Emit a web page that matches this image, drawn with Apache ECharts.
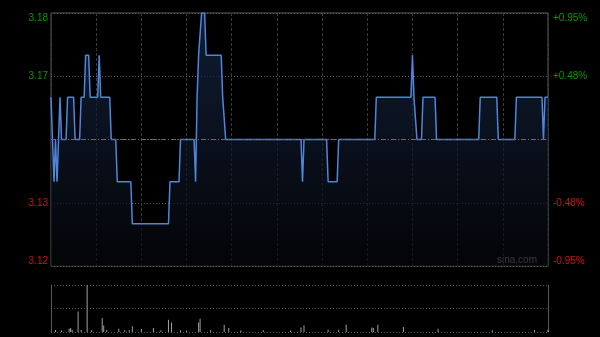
<!DOCTYPE html>
<html>
<head>
<meta charset="utf-8">
<script src="https://cdn.jsdelivr.net/npm/echarts@6/dist/echarts.min.js"></script>
<style>
html,body{margin:0;padding:0;background:#000;}
#chart{width:600px;height:337px;}
</style>
</head>
<body>
<div id="chart"></div>
<script>
// Previous close (reference price for the ± axis)
const prevClose = 3.15;
// Minute index (0 = 9:30, 150 = 12:00/13:00, 330 = 16:00) of each vertex of the price line
const minutes = [0,1,2,3,4,5,6,7,10,11,15,16,19,20,22,23,25,26,31,32,33,39,40,43,44,53,54,78,79,85,86,95,96,97,98,99,100,102,103,113,114,115,116,166,167,168,183,184,190,191,215,216,239,240,241,242,243,246,247,255,256,284,285,296,297,308,309,326,327,328,330];
const prices  = [3.16,3.16,3.14,3.15,3.14,3.14,3.16,3.15,3.15,3.16,3.16,3.15,3.15,3.16,3.16,3.17,3.17,3.16,3.16,3.17,3.16,3.16,3.15,3.15,3.14,3.14,3.13,3.13,3.14,3.14,3.15,3.15,3.14,3.16,3.17,3.17,3.18,3.18,3.17,3.17,3.16,3.16,3.15,3.15,3.14,3.15,3.15,3.14,3.14,3.15,3.15,3.16,3.16,3.17,3.16,3.16,3.15,3.15,3.16,3.16,3.15,3.15,3.16,3.16,3.15,3.15,3.16,3.16,3.15,3.16,3.16];
// Volume bars (relative units)
const volMinutes = [3,7,12,13,14,18,20,24,27,34,35,37,45,49,52,54,60,68,73,78,80,86,90,98,99,106,115,118,126,141,159,166,168,184,191,196,213,214,217,234,257,293,321,330];
const volumes    = [4.2,3.6,7,8.5,4.9,43.5,4.2,100,3.6,29.6,14,4.2,7,3.6,3.6,12,6.3,8.5,3.6,26,20,3.6,3,20,28,3.6,15.5,8.5,3,3.6,3,9.7,14,4.9,4.9,15.5,9.7,8.5,15.5,10.6,7,3.6,4.2,5.5];
// Axis range in cents from previous close
const halfRangeCents = 3;

const GREEN = '#0c960c', RED = '#d21414';
const FONT = 'Liberation Sans, Arial, sans-serif';

const lineData = minutes.map((m, i) => [m, Math.round((prices[i] - prevClose) * 100)]);
const volData = volMinutes.map((m, i) => [m, volumes[i]]);

const chart = echarts.init(document.getElementById('chart'), null, {renderer: 'canvas'});
const labelColor = v => (v > 0 ? GREEN : (v < 0 ? RED : '#888'));

chart.setOption({
  backgroundColor: '#000',
  animation: false,
  grid: [
    {left: 51, top: 13, width: 497, height: 253, show: true, borderColor: '#5a5a5a', borderWidth: 1, backgroundColor: 'transparent'},
    {left: 51, top: 285, width: 497, height: 47}
  ],
  xAxis: [
    {type: 'value', gridIndex: 0, min: 0, max: 330, interval: 30,
     axisLine: {show: false}, axisTick: {show: false}, axisLabel: {show: false},
     splitLine: {show: true, lineStyle: {color: '#3a3a3a', type: [3, 2], width: 1}}},
    {type: 'value', gridIndex: 1, min: 0, max: 330, interval: 30,
     axisLine: {show: false}, axisTick: {show: false}, axisLabel: {show: false},
     splitLine: {show: false}}
  ],
  yAxis: [
    {type: 'value', gridIndex: 0, position: 'left', min: -halfRangeCents, max: halfRangeCents, interval: 1.5,
     axisLine: {show: false}, axisTick: {show: false},
     axisLabel: {margin: 3, fontSize: 10, fontFamily: FONT, color: labelColor,
       verticalAlignMaxLabel: 'top', verticalAlignMinLabel: 'bottom',
       formatter: v => (v === 0 ? '' : (prevClose + v / 100).toFixed(2))},
     splitLine: {show: true, lineStyle: {color: '#5e5e5e', type: [1, 2], width: 1}}},
    {type: 'value', gridIndex: 0, position: 'right', min: -halfRangeCents, max: halfRangeCents, interval: 1.5,
     axisLine: {show: false}, axisTick: {show: false},
     axisLabel: {margin: 5, fontSize: 10, fontFamily: FONT, color: labelColor,
       verticalAlignMaxLabel: 'top', verticalAlignMinLabel: 'bottom',
       formatter: v => {
         if (v === 0) return '';
         const p = (v / prevClose).toFixed(2);
         return (v > 0 ? '+' : '') + p + '%';
       }},
     splitLine: {show: false}},
    {type: 'value', gridIndex: 1, position: 'left', min: 0, max: 100, interval: 50,
     axisLine: {show: true, lineStyle: {color: '#5a5a5a', width: 1}}, axisTick: {show: false}, axisLabel: {show: false},
     splitLine: {show: true, lineStyle: {color: '#5a5a5a', type: [1, 2], width: 1}}},
    {type: 'value', gridIndex: 1, position: 'right', min: 0, max: 100, interval: 50,
     axisLine: {show: true, lineStyle: {color: '#5a5a5a', width: 1}}, axisTick: {show: false}, axisLabel: {show: false},
     splitLine: {show: false}}
  ],
  series: [
    {type: 'line', xAxisIndex: 0, yAxisIndex: 0, data: lineData, symbol: 'none', smooth: false,
     lineStyle: {color: '#4f86dc', width: 1.5},
     areaStyle: {origin: 'start', color: new echarts.graphic.LinearGradient(0, 0, 0, 1, [
       {offset: 0, color: '#17294a'}, {offset: 1, color: '#050609'}])},
     markLine: {silent: true, symbol: 'none', label: {show: false},
       lineStyle: {color: '#6a6a6a', type: [5, 2, 1, 2], width: 1},
       data: [{yAxis: 0}]}
    },
    {type: 'bar', xAxisIndex: 1, yAxisIndex: 2, data: volData, barWidth: 1,
     itemStyle: {color: '#a0a0a0'}}
  ],
  graphic: [
    {type: 'text', right: 63, top: 255, style: {text: 'sina.com', fill: '#a8a8a8', font: '10px ' + FONT}}
  ]
});
</script>
</body>
</html>
